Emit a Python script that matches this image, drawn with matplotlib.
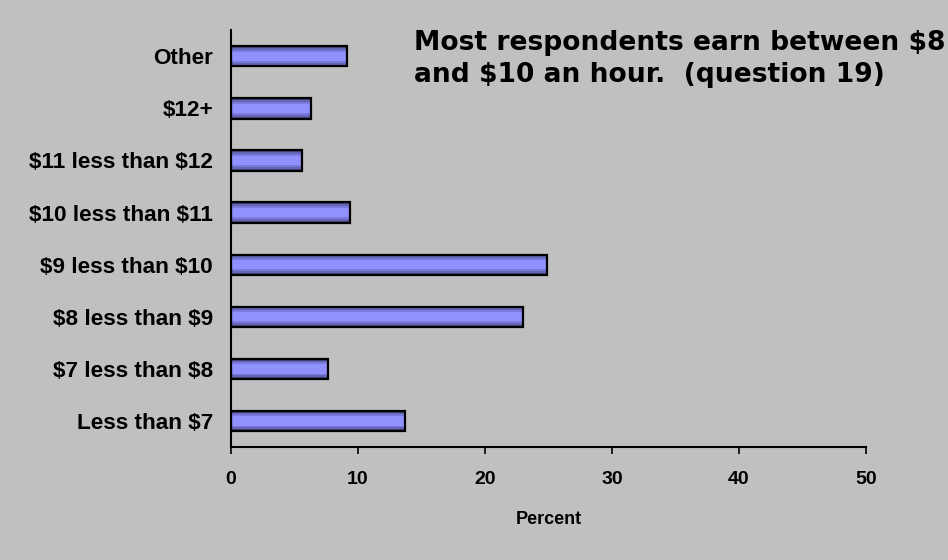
import matplotlib
matplotlib.use("Agg")
import matplotlib.pyplot as plt

plt.rcParams["text.parse_math"] = False

categories = ["Less than $7", "$7 less than $8", "$8 less than $9", "$9 less than $10",
              "$10 less than $11", "$11 less than $12", "$12+", "Other"]
percent = [13.7, 7.6, 23.0, 24.9, 9.4, 5.6, 6.3, 9.1]
xticks = [0, 10, 20, 30, 40, 50]

bg = "#c0c0c0"
fig = plt.figure(figsize=(9.48, 5.6), dpi=100, facecolor=bg)
ax = fig.add_axes([0.2437, 0.2018, 0.6698, 0.7442], facecolor=bg)

ypos = list(range(len(categories)))
h = 0.39
layers = [(1.0, "#48487e"), (0.82, "#6464b4"), (0.64, "#7a7ade"), (0.46, "#9090ff")]
for frac, col in layers:
    ax.barh(ypos, percent, height=h * frac, color=col, linewidth=0)
ax.barh(ypos, percent, height=h, facecolor="none", edgecolor="black", linewidth=1.6)

ax.set_xlim(0, 50)
ax.set_ylim(-0.5, len(categories) - 0.5)
ax.set_xticks(xticks)
ax.set_xticklabels([str(t) for t in xticks], fontsize=14, fontweight="bold",
                   family="Liberation Sans")
ax.set_yticks(ypos)
ax.set_yticklabels(categories, fontsize=16.2, fontweight="bold", family="Liberation Sans")
ax.tick_params(axis="y", length=0, pad=13)
ax.tick_params(axis="x", length=5, width=1.2, pad=12, direction="out")
for s in ["top", "right"]:
    ax.spines[s].set_visible(False)
for s in ["left", "bottom"]:
    ax.spines[s].set_linewidth(1.5)
ax.set_xlabel("Percent", fontsize=13, fontweight="bold", family="Liberation Sans",
              labelpad=17)

fig.text(0.4367, 0.9116, "Most respondents earn between $8",
         fontsize=19.1, fontweight="bold", family="DejaVu Sans", va="baseline", ha="left")
fig.text(0.4367, 0.8536, "and $10 an hour.  (question 19)",
         fontsize=19.1, fontweight="bold", family="DejaVu Sans", va="baseline", ha="left")

fig.savefig("out.png", dpi=100, facecolor=bg)
